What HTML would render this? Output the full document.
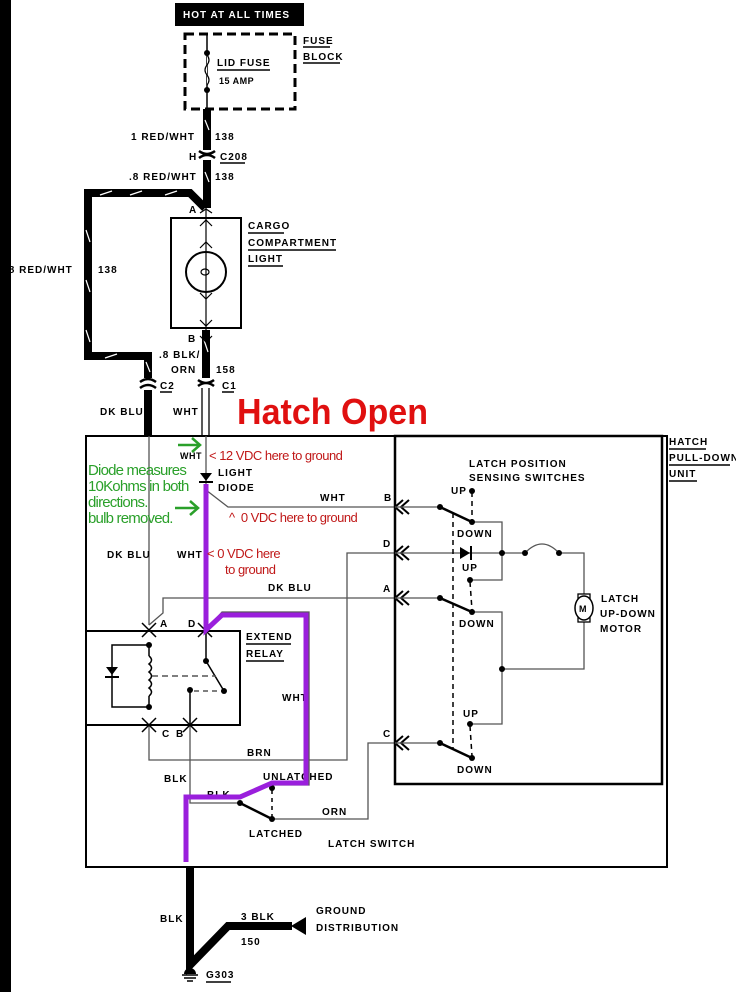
<!DOCTYPE html>
<html><head><meta charset="utf-8"><style>
html,body{margin:0;padding:0;background:#fff}
svg{display:block}
text{font-family:"Liberation Sans",sans-serif;font-weight:bold;font-size:10px;letter-spacing:1px}
.r{fill:#c01818;font-size:13px;letter-spacing:-0.5px;font-weight:normal}
.g{fill:#2aa02a;font-size:15px;letter-spacing:-0.8px;font-weight:normal}
.big{fill:#e01010;font-size:36px;letter-spacing:0}
.s8{font-size:9px;letter-spacing:0.5px}
</style></head><body>
<svg width="736" height="992" viewBox="0 0 736 992" xmlns="http://www.w3.org/2000/svg">
<!-- top -->
<rect x="175" y="3" width="129" height="23" fill="#000"/>
<text x="183" y="18" fill="#fff">HOT AT ALL TIMES</text>
<rect x="185" y="34" width="110" height="75" fill="none" stroke="#000" stroke-width="3" stroke-dasharray="9,5"/>
<line x1="207" y1="34" x2="207" y2="109" stroke="#000" stroke-width="1.5"/>
<path d="M207,55 q4,5 0,10 q-4,5 0,10 q4,5 0,10" fill="#fff" stroke="#000" stroke-width="1.2"/>
<circle cx="207" cy="53" r="3"/><circle cx="207" cy="90" r="3"/>
<text x="217" y="66">LID FUSE</text><line x1="217" y1="70" x2="270" y2="70" stroke="#000" stroke-width="1.5"/>
<text x="219" y="84" class="s8">15 AMP</text>
<text x="303" y="44">FUSE</text><line x1="303" y1="47" x2="330" y2="47" stroke="#000" stroke-width="1.5"/>
<text x="303" y="60">BLOCK</text><line x1="303" y1="63" x2="340" y2="63" stroke="#000" stroke-width="1.5"/>
<!-- thick wires -->
<g stroke="#000" stroke-width="8" fill="none">
<line x1="207" y1="109" x2="207" y2="150"/>
<line x1="207" y1="160" x2="207" y2="208"/>
<polyline points="205,208 190,193 88,193 88,356 148,356 148,378"/>
<line x1="148" y1="390" x2="148" y2="436"/>
<line x1="206" y1="330" x2="206" y2="378"/>
</g>
<g stroke="#fff" stroke-width="1.2">
<line x1="205" y1="120" x2="209" y2="130"/><line x1="205" y1="172" x2="209" y2="182"/>
<line x1="100" y1="195" x2="112" y2="191"/><line x1="130" y1="195" x2="142" y2="191"/><line x1="165" y1="195" x2="177" y2="191"/>
<line x1="86" y1="230" x2="90" y2="242"/><line x1="86" y1="280" x2="90" y2="292"/><line x1="86" y1="330" x2="90" y2="342"/>
<line x1="105" y1="358" x2="117" y2="354"/><line x1="146" y1="362" x2="150" y2="372"/>
<line x1="204" y1="340" x2="208" y2="352"/>
</g>
<path d="M199,151 q8,6 16,0 M199,158 q8,-6 16,0" stroke="#000" stroke-width="2.5" fill="none"/>
<path d="M140,382 q8,-6 16,0 M140,388 q8,-6 16,0" stroke="#000" stroke-width="2.5" fill="none"/>
<path d="M198,380 q8,6 16,0 M198,386 q8,-6 16,0" stroke="#000" stroke-width="2.5" fill="none"/>
<line x1="202" y1="388" x2="202" y2="436" stroke="#000" stroke-width="1.3"/>
<line x1="209" y1="388" x2="209" y2="436" stroke="#000" stroke-width="1.3"/>
<text x="131" y="140">1 RED/WHT</text><text x="215" y="140">138</text>
<text x="189" y="160">H</text><text x="220" y="160">C208</text><line x1="220" y1="163" x2="245" y2="163" stroke="#000" stroke-width="1.5"/>
<text x="129" y="180">.8 RED/WHT</text><text x="215" y="180">138</text>
<text x="189" y="213">A</text>
<text x="5" y="273">.8 RED/WHT</text><text x="98" y="273">138</text>
<rect x="0" y="0" width="11" height="992" fill="#000"/>
<!-- cargo light -->
<rect x="171" y="218" width="70" height="110" fill="none" stroke="#000" stroke-width="2"/>
<line x1="206" y1="208" x2="206" y2="340" stroke="#000" stroke-width="1.2"/>
<path d="M200,226 l6,-6 6,6 M200,248 l6,-6 6,6 M200,293 l6,6 6,-6 M200,320 l6,6 6,-6 M200,336 l6,6 6,-6 M200,213 l6,-4 6,4" stroke="#000" stroke-width="1.2" fill="none"/>
<circle cx="206" cy="272" r="20" fill="none" stroke="#000" stroke-width="2"/>
<ellipse cx="205" cy="272" rx="4" ry="3" fill="none" stroke="#000" stroke-width="1.2"/>
<text x="248" y="229">CARGO</text><line x1="248" y1="233" x2="284" y2="233" stroke="#000" stroke-width="1.5"/>
<text x="248" y="246">COMPARTMENT</text><line x1="248" y1="250" x2="336" y2="250" stroke="#000" stroke-width="1.5"/>
<text x="248" y="262">LIGHT</text><line x1="248" y1="266" x2="283" y2="266" stroke="#000" stroke-width="1.5"/>
<text x="188" y="342">B</text>
<text x="159" y="358">.8 BLK/</text><text x="171" y="373">ORN</text><text x="216" y="373">158</text>
<text x="160" y="389">C2</text><line x1="160" y1="392" x2="172" y2="392" stroke="#000" stroke-width="1.5"/>
<text x="222" y="389">C1</text><line x1="222" y1="392" x2="234" y2="392" stroke="#000" stroke-width="1.5"/>
<text x="100" y="415">DK BLU</text><text x="173" y="415">WHT</text>
<text x="237" y="424" class="big" textLength="191" lengthAdjust="spacingAndGlyphs">Hatch Open</text>
<!-- boxes -->
<rect x="86" y="436" width="581" height="431" fill="none" stroke="#000" stroke-width="2"/>
<rect x="395" y="436" width="267" height="348" fill="none" stroke="#000" stroke-width="2.5"/>
<text x="669" y="445">HATCH</text><line x1="669" y1="449" x2="706" y2="449" stroke="#000" stroke-width="1.5"/>
<text x="669" y="461">PULL-DOWN</text><line x1="669" y1="465" x2="730" y2="465" stroke="#000" stroke-width="1.5"/>
<text x="669" y="477">UNIT</text><line x1="669" y1="481" x2="697" y2="481" stroke="#000" stroke-width="1.5"/>
<!-- left wires -->
<g stroke="#555" stroke-width="1.3" fill="none">
<line x1="149" y1="436" x2="149" y2="625"/>
<line x1="206" y1="436" x2="206" y2="630"/>
<polyline points="206,490 228,507 395,507"/>
<polyline points="149,625 163,613 163,598 395,598"/>
<polyline points="149,725 149,760 347,760 347,553 395,553"/>
<polyline points="190,725 190,803 240,803"/>
<polyline points="206,630 222,612 309,612 309,785 272,785"/>
<polyline points="272,819 368,819 368,743 395,743"/>
</g>
<g stroke="#000" stroke-width="2" fill="none">
<path d="M403,500 l-8,7 8,7 M409,500 l-8,7 8,7"/>
<path d="M403,546 l-8,7 8,7 M409,546 l-8,7 8,7"/>
<path d="M403,591 l-8,7 8,7 M409,591 l-8,7 8,7"/>
<path d="M403,736 l-8,7 8,7 M409,736 l-8,7 8,7"/>
</g>
<text x="384" y="501">B</text><text x="383" y="547">D</text><text x="383" y="592">A</text><text x="383" y="737">C</text>
<path d="M200,473 h12 l-6,8 z" fill="#000"/><line x1="199" y1="482" x2="213" y2="482" stroke="#000" stroke-width="2"/>
<text x="218" y="476">LIGHT</text><text x="218" y="491">DIODE</text>
<text x="180" y="459" class="s8">WHT</text>
<text x="320" y="501">WHT</text>
<text x="107" y="558">DK BLU</text><text x="177" y="558">WHT</text>
<text x="268" y="591">DK BLU</text>
<!-- relay -->
<rect x="86" y="631" width="154" height="94" fill="none" stroke="#000" stroke-width="2"/>
<g stroke="#000" stroke-width="1.5" fill="none">
<path d="M142,637 l7,-7 7,7 M142,623 l7,7 7,-7 M198,637 l7,-7 7,7 M198,623 l7,7 7,-7"/>
<path d="M142,718 l7,7 7,-7 M142,732 l7,-7 7,7 M183,718 l7,7 7,-7 M183,732 l7,-7 7,7"/>
<polyline points="149,645 112,645 112,707 149,707"/>
<path d="M149,656 q5,4 0,8 q5,4 0,8 q5,4 0,8 q5,4 0,8 q5,4 0,8"/>
<line x1="149" y1="645" x2="149" y2="656"/><line x1="149" y1="696" x2="149" y2="707"/>
<line x1="206" y1="631" x2="206" y2="661"/>
<line x1="206" y1="661" x2="224" y2="691"/>
<line x1="190" y1="690" x2="190" y2="725"/>
<line x1="152" y1="676" x2="216" y2="676" stroke-dasharray="6,4" stroke="#555"/>
<line x1="194" y1="691" x2="222" y2="691" stroke-dasharray="5,4" stroke="#555"/>
</g>
<path d="M106,667 h12 l-6,8 z" fill="#000"/><line x1="105" y1="677" x2="119" y2="677" stroke="#000" stroke-width="2"/>
<circle cx="149" cy="645" r="3"/><circle cx="149" cy="707" r="3"/><circle cx="206" cy="661" r="3"/><circle cx="224" cy="691" r="3"/><circle cx="190" cy="690" r="3"/>
<text x="160" y="627">A</text><text x="188" y="627">D</text>
<text x="162" y="737">C</text><text x="176" y="737">B</text>
<text x="246" y="640">EXTEND</text><line x1="246" y1="644" x2="291" y2="644" stroke="#000" stroke-width="1.5"/>
<text x="246" y="657">RELAY</text><line x1="246" y1="661" x2="284" y2="661" stroke="#000" stroke-width="1.5"/>
<text x="282" y="701">WHT</text>
<text x="247" y="756">BRN</text>
<text x="164" y="782">BLK</text>
<text x="263" y="780">UNLATCHED</text>
<text x="207" y="798">BLK</text>
<g stroke="#000" stroke-width="1.5" fill="none">
<line x1="240" y1="803" x2="272" y2="819" stroke-width="2.5"/>
<line x1="272" y1="790" x2="272" y2="817" stroke-dasharray="4,4"/>
</g>
<circle cx="240" cy="803" r="3"/><circle cx="272" cy="819" r="3"/><circle cx="272" cy="788" r="3"/>
<text x="249" y="837">LATCHED</text>
<text x="322" y="815">ORN</text>
<text x="328" y="847">LATCH SWITCH</text>
<polyline points="206,484 206,630 222,615 306,615 306,783 272,783 240,797 186,797 186,862" fill="none" stroke="#9a1fdc" stroke-width="5"/>
<text class="r" x="209" y="460">&lt; 12 VDC here to ground</text>
<text class="r" x="229" y="522">^&#160; 0 VDC here to ground</text>
<text class="r" x="207" y="558">&lt; 0 VDC here</text>
<text class="r" x="225" y="574">to ground</text>
<text class="g" x="88" y="475">Diode measures</text>
<text class="g" x="88" y="491">10Kohms in both</text>
<text class="g" x="88" y="507">directions.</text>
<text class="g" x="88" y="523">bulb removed.</text>
<g stroke="#2aa02a" stroke-width="2.5" fill="none">
<line x1="178" y1="445" x2="200" y2="445"/><path d="M192,438 l8,7 -8,7"/>
<line x1="175" y1="508" x2="198" y2="508"/><path d="M190,501 l8,7 -8,7"/>
</g>
<text x="469" y="467">LATCH POSITION</text>
<text x="469" y="481">SENSING SWITCHES</text>
<g stroke="#555" stroke-width="1.3" fill="none">
<line x1="395" y1="507" x2="440" y2="507"/>
<polyline points="472,522 502,522 502,580 470,580"/>
<line x1="395" y1="553" x2="525" y2="553"/>
<path d="M525,553 q17,-18 34,0"/>
<polyline points="559,553 584,553 584,595"/>
<polyline points="584,622 584,669 502,669"/>
<line x1="395" y1="598" x2="440" y2="598"/>
<polyline points="472,612 502,612 502,724 470,724"/>
<line x1="395" y1="743" x2="440" y2="743"/>
</g>
<g stroke="#000" stroke-width="2.5">
<line x1="440" y1="507" x2="472" y2="522"/><line x1="440" y1="598" x2="472" y2="612"/><line x1="440" y1="743" x2="472" y2="758"/>
</g>
<g stroke="#000" stroke-width="1.5" stroke-dasharray="5,4">
<line x1="472" y1="492" x2="472" y2="520"/><line x1="470" y1="582" x2="472" y2="610"/><line x1="470" y1="726" x2="472" y2="756"/>
<line x1="453" y1="513" x2="453" y2="750"/>
</g>
<g>
<circle cx="440" cy="507" r="3"/><circle cx="472" cy="522" r="3"/><circle cx="472" cy="491" r="3"/>
<circle cx="440" cy="598" r="3"/><circle cx="472" cy="612" r="3"/><circle cx="470" cy="580" r="3"/>
<circle cx="440" cy="743" r="3"/><circle cx="472" cy="758" r="3"/><circle cx="470" cy="724" r="3"/>
<circle cx="502" cy="553" r="3"/><circle cx="525" cy="553" r="3"/><circle cx="559" cy="553" r="3"/><circle cx="502" cy="669" r="3"/>
</g>
<path d="M460,547 l10,6 -10,6 z" fill="#000"/><line x1="471" y1="546" x2="471" y2="560" stroke="#000" stroke-width="2"/>
<text x="451" y="494">UP</text><text x="457" y="537">DOWN</text>
<text x="462" y="571">UP</text><text x="459" y="627">DOWN</text>
<text x="463" y="717">UP</text><text x="457" y="773">DOWN</text>
<rect x="578" y="594" width="12" height="6" fill="#fff" stroke="#000" stroke-width="1.3"/>
<rect x="578" y="616" width="12" height="6" fill="#fff" stroke="#000" stroke-width="1.3"/>
<ellipse cx="584" cy="608" rx="9" ry="12" fill="#fff" stroke="#000" stroke-width="1.5"/>
<text x="579" y="612" class="s8">M</text>
<text x="601" y="602">LATCH</text><text x="600" y="617">UP-DOWN</text><text x="600" y="632">MOTOR</text>
<g stroke="#000" stroke-width="8" fill="none">
<polyline points="190,867 190,965 228,926 292,926"/>
</g>
<path d="M291,926 l15,-9 v18 z" fill="#000"/>
<text x="160" y="922">BLK</text><text x="241" y="920">3 BLK</text><text x="241" y="945">150</text>
<text x="316" y="914">GROUND</text><text x="316" y="931">DISTRIBUTION</text>
<path d="M184,974 a6,6 0 0 1 12,0 z" fill="#000"/>
<line x1="182" y1="975" x2="198" y2="975" stroke="#000" stroke-width="1.5"/>
<line x1="184" y1="978" x2="196" y2="978" stroke="#000" stroke-width="1.5"/>
<line x1="187" y1="981" x2="193" y2="981" stroke="#000" stroke-width="1.5"/>
<text x="206" y="978">G303</text><line x1="206" y1="982" x2="231" y2="982" stroke="#000" stroke-width="1.5"/>
</svg>
</body></html>
